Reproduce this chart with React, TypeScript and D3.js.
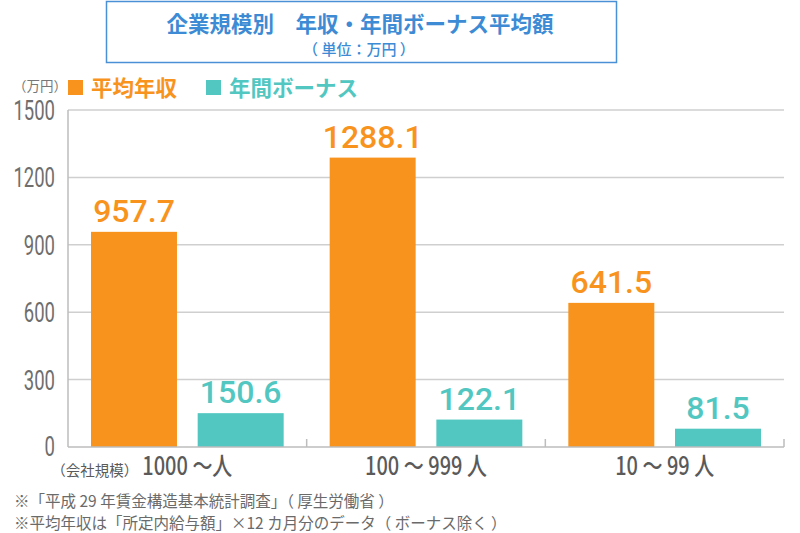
import React from "react";
import * as d3 from "d3";

const categories = ["1000 〜人", "100 〜 999 人", "10 〜 99 人"];
const seriesNames = ["平均年収", "年間ボーナス"];
const salary = [957.7, 1288.1, 641.5];
const bonus = [150.6, 122.1, 81.5];
const yTicks = [0, 300, 600, 900, 1200, 1500];
const title = "企業規模別　年収・年間ボーナス平均額";
const subtitle = "（ 単位：万円 ）";
const unitLabel = "（万円）";
const catPrefix = "（会社規模）";
const notes = [
  "※「平成 29 年賃金構造基本統計調査」（ 厚生労働省 ）",
  "※平均年収は「所定内給与額」×12 カ月分のデータ（ ボーナス除く ）",
];

const COLORS = ["#F8931D", "#52C7C1"];
const JP = "'Noto Sans CJK JP', 'Noto Sans', sans-serif";
const NUM = "Roboto, 'Noto Sans', sans-serif";

export default function App() {
  const W = 800, H = 533;
  const left = 68, right = 784, top = 110, bottom = 447;
  const x0 = d3.scaleBand<string>().domain(categories).range([left, right]).paddingInner(0).paddingOuter(0);
  const bw = x0.bandwidth();
  const x1 = d3.scaleBand<string>().domain(seriesNames).range([23, bw - 23]).paddingInner(0.194).paddingOuter(0);
  const y = d3.scaleLinear().domain([0, 1500]).range([bottom, top]);
  const series = [salary, bonus];

  return (
    <svg width={W} height={H} style={{ position: "absolute", left: 0, top: 0, background: "#fff" }}>
      <rect x={106.5} y={1.5} width={510} height={61} fill="none" stroke="#4A90D6" strokeWidth={1.5} />
      <text x={360} y={32} textAnchor="middle" fontFamily={JP} fontWeight={700} fontSize={21.5} fill="#3D8BD4">{title}</text>
      <text x={359} y={55} textAnchor="middle" fontFamily={JP} fontWeight={500} fontSize={15} fill="#3D8BD4">{subtitle}</text>

      {/* legend */}
      <text x={40} y={91} textAnchor="middle" fontFamily={JP} fontSize={13.5} fill="#777">{unitLabel}</text>
      {seriesNames.map((s, i) => {
        const lx = i === 0 ? 68 : 206;
        return (
          <g key={s}>
            <rect x={lx} y={80} width={15} height={15} fill={COLORS[i]} />
            <text x={lx + 23} y={96} fontFamily={JP} fontWeight={700} fontSize={21.5} fill={COLORS[i]}>{s}</text>
          </g>
        );
      })}

      {/* grid */}
      {yTicks.filter(t => t > 0).map(t => (
        <line key={t} x1={left} x2={right} y1={y(t)} y2={y(t)} stroke="#CFCFCF" strokeWidth={1.5} />
      ))}
      {yTicks.map(t => (
        <text key={t} transform={`translate(55,${y(t) + (t === 0 ? 9 : 10)}) scale(0.66,1)`} textAnchor="end" fontFamily={NUM} fontSize={28} fill="#6E6E6E">{t}</text>
      ))}

      {/* bars */}
      {categories.map((c, ci) => (
        <g key={c}>
          {seriesNames.map((s, si) => {
            const v = series[si][ci];
            const bx = (x0(c) as number) + (x1(s) as number);
            return (
              <g key={s}>
                <rect x={bx} y={y(v)} width={x1.bandwidth()} height={y(0) - y(v)} fill={COLORS[si]} />
                <text x={bx + x1.bandwidth() / 2} y={y(v) - 10} textAnchor="middle" fontFamily={NUM} fontWeight={500} fontSize={32} fill={COLORS[si]}>{v.toFixed(1)}</text>
              </g>
            );
          })}
        </g>
      ))}

      {/* axes */}
      <line x1={left} x2={left} y1={top} y2={bottom} stroke="#BDBDBD" strokeWidth={1.5} />
      <line x1={left} x2={right} y1={bottom} y2={bottom} stroke="#BDBDBD" strokeWidth={1.5} />
      {categories.map(c => {
        const xe = (x0(c) as number) + bw;
        return <line key={c} x1={xe} x2={xe} y1={bottom} y2={bottom - 8} stroke="#BDBDBD" strokeWidth={1.5} />;
      })}

      {/* category labels */}
      {categories.map((c, ci) => {
        const cx = (x0(c) as number) + bw / 2;
        return (
          <g key={c} transform={`translate(${cx},475)`}>
            <text transform="scale(0.8,1)" textAnchor="middle" fontFamily={JP} fontWeight={500} fontSize={25} fill="#5A5A5A">{c}</text>
            {ci === 0 && (
              <text x={-49} y={1} textAnchor="end" fontFamily={JP} fontSize={14.5} fill="#5A5A5A">{catPrefix}</text>
            )}
          </g>
        );
      })}

      {/* notes */}
      {notes.map((n, i) => (
        <text key={i} x={14} y={507 + i * 22} fontFamily={JP} fontSize={15.5} fill="#6A6A6A">{n}</text>
      ))}
    </svg>
  );
}
